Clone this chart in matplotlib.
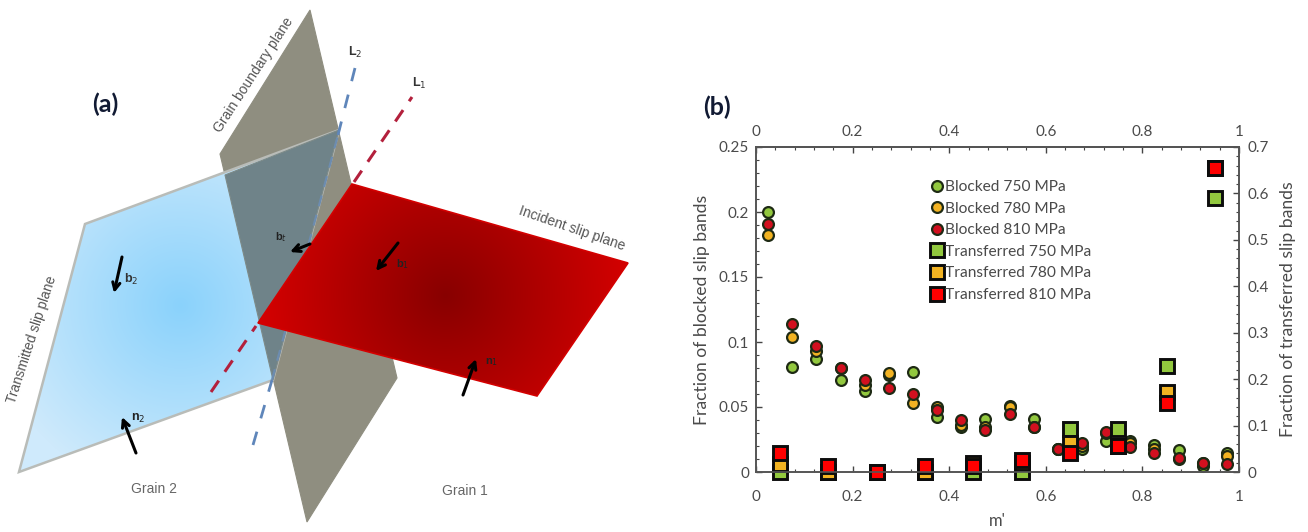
import numpy as np
import matplotlib
matplotlib.use("Agg")
import matplotlib.pyplot as plt
from matplotlib.patches import Polygon

plt.rcParams['font.family'] = ['Lato', 'DejaVu Sans']

# chart (b) data
x_blocked = [0.025, 0.075, 0.125, 0.175, 0.225, 0.275, 0.325, 0.375, 0.425, 0.475,
             0.525, 0.575, 0.625, 0.675, 0.725, 0.775, 0.825, 0.875, 0.925, 0.975]
blocked_750 = [0.2, 0.081, 0.087, 0.0705, 0.062, 0.075, 0.077, 0.042, 0.035, 0.041,
               0.051, 0.041, 0.018, 0.018, 0.024, 0.024, 0.021, 0.017, 0.005, 0.015]
blocked_780 = [0.182, 0.104, 0.093, 0.08, 0.067, 0.076, 0.053, 0.05, 0.036, 0.035,
               0.05, 0.035, 0.018, 0.02, 0.03, 0.022, 0.018, 0.01, 0.007, 0.012]
blocked_810 = [0.191, 0.114, 0.097, 0.08, 0.071, 0.065, 0.06, 0.048, 0.04, 0.032,
               0.045, 0.035, 0.018, 0.022, 0.031, 0.019, 0.015, 0.0105, 0.007, 0.006]

x_transferred = [0.05, 0.15, 0.25, 0.35, 0.45, 0.55, 0.65, 0.75, 0.85, 0.95]
transferred_750 = [0, 0, 0, 0, 0, 0, 0.092, 0.092, 0.228, 0.59]
transferred_780 = [0.017, 0, 0, 0, 0.02, 0.02, 0.063, 0.055, 0.173, 0.655]
transferred_810 = [0.042, 0.0135, 0, 0.012, 0.012, 0.026, 0.042, 0.056, 0.148, 0.655]

x_ticks = [0, 0.2, 0.4, 0.6, 0.8, 1]
x_labels = ['0', '0.2', '0.4', '0.6', '0.8', '1']
left_ticks = [0, 0.05, 0.1, 0.15, 0.2, 0.25]
left_labels = ['0', '0.05', '0.1', '0.15', '0.2', '0.25']
right_ticks = [0, 0.1, 0.2, 0.3, 0.4, 0.5, 0.6, 0.7]
right_labels = ['0', '0.1', '0.2', '0.3', '0.4', '0.5', '0.6', '0.7']

# schematic (a) outlines, in image pixels
gb_plane = [(310, 10), (220, 154), (307, 522), (397, 378)]
blue_plane = [(85, 224), (339, 130), (273, 380), (19, 472)]
overlap = [(225, 175), (339, 130), (273, 380)]
red_plane = [(352, 184), (628, 263), (537, 396), (258, 323)]

GREEN, YELLOW = '#92c83e', '#f2b322'
TEXT = '#4a4a4a'
W, H = 1308, 532

fig = plt.figure(figsize=(W / 100, H / 100), dpi=100)

# panel (a) is drawn on a full-figure axes in pixel coordinates
sk = fig.add_axes([0, 0, 1, 1])
sk.set_xlim(0, W)
sk.set_ylim(H, 0)
sk.axis('off')


def radial_fill(ax, corners, center, inner, outer, reach, z):
    # polygon filled with a soft radial shade
    xs = [c[0] for c in corners]
    ys = [c[1] for c in corners]
    ext = (min(xs), max(xs), max(ys), min(ys))
    gx, gy = np.meshgrid(np.arange(ext[0], ext[1]), np.arange(ext[3], ext[2]))
    t = np.clip(np.hypot(gx - center[0], gy - center[1]) / reach, 0, 1)[..., None]
    rgb = np.array(matplotlib.colors.to_rgb(inner)) * (1 - t) + np.array(matplotlib.colors.to_rgb(outer)) * t
    im = ax.imshow(rgb, extent=ext, aspect='auto', zorder=z, interpolation='bilinear')
    im.set_clip_path(Polygon(corners, transform=ax.transData))


sk.add_patch(Polygon(gb_plane, fc='#8f8e80', ec='#8f8e80', lw=0.8, zorder=1))
radial_fill(sk, blue_plane, (180, 305), '#8ad2fb', '#cfeafc', 190, 2)
sk.add_patch(Polygon(blue_plane, fc='none', ec='#b9bcb8', lw=1.8, zorder=2.5))
sk.add_patch(Polygon(overlap, fc='#6f8389', ec='#7d8a88', lw=0.8, zorder=3))
# the lines are hidden where they pass behind the incident plane
sk.plot([253, 272], [445, 380], color='#5f86ba', lw=2, dashes=(5, 5), zorder=3.5)
sk.plot([272, 338], [380, 135], color='#6c8cb0', lw=1.6, dashes=(5, 4), zorder=3.5)
sk.plot([338, 355], [135, 68], color='#5f86ba', lw=2, dashes=(5, 5), zorder=3.5)
sk.plot([211, 256], [392, 326], color='#b3203c', lw=2.2, dashes=(4.5, 3.5), zorder=3.5)
sk.plot([354, 412], [182, 97], color='#b3203c', lw=2.2, dashes=(4.5, 3.5), zorder=3.5)
radial_fill(sk, red_plane, (445, 295), '#880000', '#d60000', 190, 4)
sk.add_patch(Polygon(red_plane, fc='none', ec='#d40000', lw=1.2, zorder=4.2))

arrows = [((122, 257), (114, 293)), ((136, 453), (122, 417)), ((463, 395), (476, 359)),
          ((398, 243), (376, 271)), ((310, 244), (290, 252))]
for tail, tip in arrows:
    sk.annotate('', xy=tip, xytext=tail, zorder=5,
                arrowprops=dict(arrowstyle='->', color='black', lw=2.2, mutation_scale=13,
                                shrinkA=0, shrinkB=0))

sk_font = ['Liberation Sans', 'DejaVu Sans']
labels_a = [(131, 279, 'b$_2$', 9, '#333333'), (138, 418, 'n$_2$', 9, '#222222'),
            (403, 264, 'b$_1$', 8, '#222222'), (492, 362, 'n$_1$', 8, '#222222'),
            (281, 237, 'b$_t$', 8, '#222222'), (355, 52, 'L$_2$', 9, '#333333'),
            (419, 83, 'L$_1$', 9, '#333333'), (154, 489, 'Grain 2', 10, '#666666'),
            (465, 491, 'Grain 1', 10, '#666666')]
for lx, ly, s, size, col in labels_a:
    sk.text(lx, ly, s, ha='center', va='center', fontsize=size, color=col, family=sk_font,
            fontweight='bold' if s[0] in 'bnL' else 'normal', zorder=6)
sk.text(254, 75, 'Grain boundary plane', rotation=57, ha='center', va='center', fontsize=10,
        color='#555555', family=sk_font, rotation_mode='anchor')
sk.text(32, 340, 'Transmitted slip plane', rotation=72, ha='center', va='center', fontsize=9.8,
        color='#555555', family=sk_font, rotation_mode='anchor')
sk.text(572, 229, 'Incident slip plane', rotation=-19, ha='center', va='center', fontsize=10,
        color='#555555', family=sk_font, rotation_mode='anchor')
sk.text(105, 104, '(a)', ha='center', va='center', fontsize=18, fontweight='bold', color='#111a33')
sk.text(717, 107, '(b)', ha='center', va='center', fontsize=18, fontweight='bold', color='#111a33')

# panel (b)
ax = fig.add_axes([756 / W, 1 - 472 / H, (1239 - 756) / W, (472 - 147) / H])
ax.patch.set_alpha(0)
ax2 = ax.twinx()
top = ax.secondary_xaxis('top')

circle = dict(ls='none', marker='o', ms=7.8, mec='#1e2a14', mew=1.6, clip_on=False)
square = dict(ls='none', marker='s', ms=10.6, mec='#0c0c0c', mew=2.1, clip_on=False)

h1, = ax.plot(x_blocked, blocked_750, mfc=GREEN, label='Blocked 750 MPa', **circle)
h2, = ax.plot(x_blocked, blocked_780, mfc=YELLOW, label='Blocked 780 MPa', **circle)
h3, = ax.plot(x_blocked, blocked_810, mfc='#d2101f', label='Blocked 810 MPa', **circle)
h4, = ax2.plot(x_transferred, transferred_750, mfc=GREEN, label='Transferred 750 MPa', **square)
h5, = ax2.plot(x_transferred, transferred_780, mfc=YELLOW, label='Transferred 780 MPa', **square)
h6, = ax2.plot(x_transferred, transferred_810, mfc='#ff0000', label='Transferred 810 MPa', **square)

ax.set_xlim(0, 1)
ax.set_ylim(0, 0.25)
ax2.set_ylim(0, 0.7)
for a in (ax, top):
    a.set_xticks(x_ticks, x_labels)
    a.set_xticks(np.arange(0, 1.001, 0.04), minor=True)
ax.set_yticks(left_ticks, left_labels)
ax.set_yticks(np.arange(0, 0.2501, 0.01), minor=True)
ax2.set_yticks(right_ticks, right_labels)
ax2.set_yticks(np.arange(0, 0.7001, 0.02), minor=True)

for a in (ax, ax2, top):
    a.tick_params(which='both', direction='in', color='#444444')
    a.tick_params(which='major', length=4, width=1, labelsize=11, labelcolor=TEXT, pad=6)
    a.tick_params(which='minor', length=2.5, width=0.8)
    for sp in a.spines.values():
        sp.set_color('#555555')
        sp.set_linewidth(1.2)
ax.tick_params(axis='x', which='major', pad=13)
ax.tick_params(axis='y', which='major', pad=5)

ax.set_xlabel("m'", fontsize=12, color=TEXT, labelpad=6.5)
ax.set_ylabel('Fraction of blocked slip bands', fontsize=12.6, color=TEXT, labelpad=6)
ax2.set_ylabel('Fraction of transferred slip bands', fontsize=12.6, color=TEXT, labelpad=8)

ax2.legend(handles=[h1, h2, h3, h4, h5, h6], frameon=False, fontsize=11.2, labelcolor=TEXT,
           loc='upper left', bbox_to_anchor=((929 - 756) / 483, 1 - (180 - 147) / 325),
           borderpad=0, borderaxespad=0, labelspacing=0.49, handletextpad=0.0, handlelength=1.0)

fig.savefig('out.png', dpi=100)
